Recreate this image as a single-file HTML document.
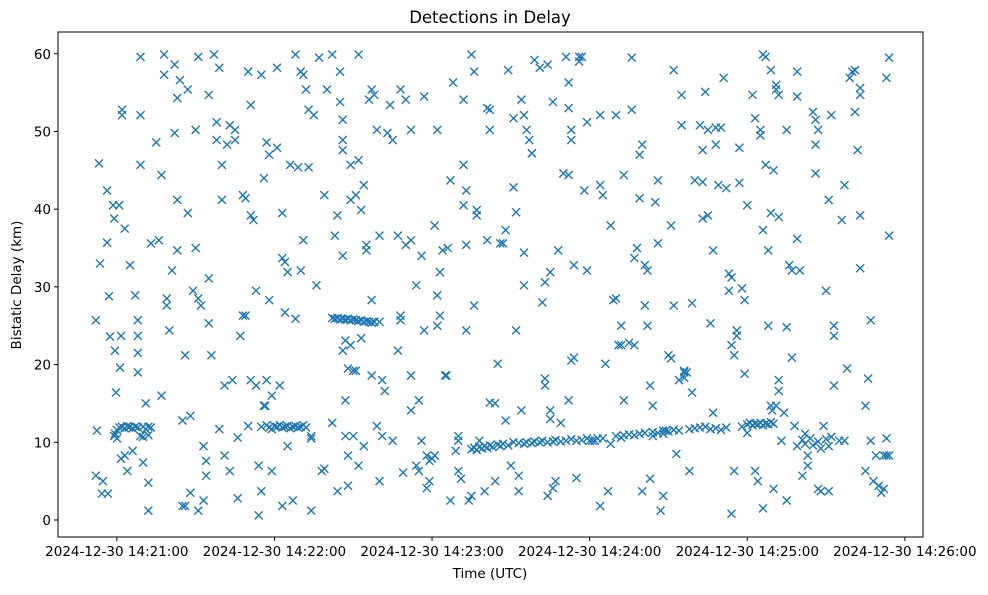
<!DOCTYPE html>
<html><head><meta charset="utf-8">
<style>
html,body{margin:0;padding:0;background:#fff;}
svg text{font-family:"DejaVu Sans","Liberation Sans",sans-serif;fill:#000;}
</style></head>
<body>
<svg id="chart" width="988" height="590" viewBox="0 0 988 590" xmlns="http://www.w3.org/2000/svg">
<rect x="0" y="0" width="988" height="590" fill="#fff"/>
<text x="490" y="23" font-size="16.5" text-anchor="middle">Detections in Delay</text>
<g id="marks"></g>
<g id="axes"></g>
<text x="490" y="578" font-size="13.5" text-anchor="middle">Time (UTC)</text>
<text x="0" y="0" font-size="13.5" text-anchor="middle" transform="translate(21,285) rotate(-90)">Bistatic Delay (km)</text>
</svg>
<script>
// seconds after 14:20:00 and bistatic delay (km)
const detections = [
[52,25.7],[52.4,11.5],[53.2,45.9],[53.6,33],[52,5.7],[54.7,5],[54.3,3.4],[56.6,3.4],[56.3,42.4],[56.3,35.7],[57,28.8],[57.4,23.6],[58.6,40.5],[59,38.8],[59.3,21.8],[59.7,16.4],[59.3,11.1],[60.1,10.5],[60.9,40.5],[61.2,19.6],[61.6,7.9],[61.6,23.7],
[62,52.8],[62,52.1],[63,37.5],[63,8.3],[64,6.3],[65,32.8],[66,8.9],[67,28.9],[68,25.7],[68,23.7],[68,21.5],[68,19],[69,59.6],[69,52.1],[69,45.7],[69,10.8],[70,7.4],[71,15],[72,1.2],[72,4.8],[73,35.6],[75,48.6],[76,36],[77,44.4],[77,16],[78,59.9],[78,57.3],[79,27.6],[79,28.5],[80,24.4],[81,32.1],[82,49.8],[82,58.6],[83,54.3],[83,34.7],[83,41.2],[84,56.6],[85,12.8],[85,1.8],[86,1.8],[86,21.2],[87,55.4],[87,39.5],[88,13.4],[88,3.5],[89,29.5],[90,35],[90,50.2],[91,59.6],[91,28.5],[91,1.2],[92,27.6],[93,2.5],
[60,11.6],[61,11.9],[62,12],[63,11.8],[64,12.1],[64.5,11.9],[65,12],[66,11.8],[67,12],[68,11.9],[70,12],[71,11.7],[72,12],[73,11.9],[59,10.8],[70,10.7],[72,10.9],
[93,9.5],[94,7.6],[94,5.7],[95,31.1],[95,25.3],[95,54.7],[96,21.2],[97,59.9],[98,48.9],[98,51.2],[99,11.7],[99,58.2],[100,41.2],[100,45.7],[101,17.3],[101,8.3],[102,48.3],[103,50.8],[103,6.3],[104,18],[105,48.9],[105,50.2],[106,10.6],[106,2.8],[107,23.7],[108,41.8],[108,26.3],[109,41.4],[109,26.3],[110,12.1],[110,57.7],[111,53.4],[111,18],[111,39.2],[112,38.6],[113,17.3],[113,29.5],[114,7],[114,0.6],[115,57.3],[115,3.7],[116,14.7],[116.5,14.7],[116,44],[117,18],[117,48.6],[118,47],[118,28.3],[119,16],[119,6.3],[119,11.7],[121,58.2],[121,47.9],[122,17.3],[123,39.5],[123,1.8],
[115,12],[117,12.2],[118,11.9],[120,12.1],[121,12],[122,12.2],[123,11.9],[124,12],[125,12.1],[126,11.8],[127,12],[128,12.1],[129,11.9],[130,12],[131,12.2],[132,11.9],
[123,33.7],[124,33.2],[124,26.7],[125,31.9],[125,9.5],[126,45.7],[127,2.5],[128,25.9],[128,59.9],[129,45.4],[130,32.1],[130,57.7],[131,36],[131,57.3],[132,55.4],[133,52.8],[133,45.4],[134,10.8],[134,10.5],[134,1.2],[135,52.1],[136,30.2],[137,59.5],[138,6.3],[139,41.8],[139,6.6],[140,55.4],[142,59.9],[142,12.5],[143,36.6],[144,39.2],[144,3.7],[145,53.8],[145,57.7],[146,51.5],[146,48.9],[146,34],[146,47.6],[146,21.8],[147,10.8],[147,15.4],[148,8.3],[148,4.4],[149,45.7],[149,41.2],[150,19.2],[150,10.8],[151,41.8],[152,59.9],[152,46.3],[152,7],[153,39.9],[153,23.4],[147,23.1],[149,22.5],[148,19.5],[151,19.2],
[142,26],[143,25.9],[144,26],[145,25.8],[146,25.9],[147,25.8],[148,25.9],[149,25.7],[150,25.8],[151,25.7],[152,25.6],[153,25.7],[154,25.5],[155,25.6],[156,25.5],[157,25.4],[158,25.5],[160,25.5],
[154,43.1],[154,9.5],[155,34.7],[155,35.4],[156,54.1],[157,18.6],[157,55.4],[157,28.3],[158,54.7],[159,50.2],[159,12.1],[160,36.6],[160,5],[161,10.8],[161,18],[162,16.6],[163,49.8],[164,53.4],[165,48.9],[165,10.2],[167,21.8],[167,36.6],[168,55.4],[168,26.3],[168,25.7],[169,6.1],[170,54.1],[170,35.4],[172,14.1],[172,50.2],[172,18.6],[172,36],[174,30.2],[174,7],[175,6.3],[175,15.4],[176,10.2],[176,34],[177,54.5],[177,24.4],[178,8.3],[178,4.1],[179,5],[179,7.6],[180,7.9],[181,8.3],[181,37.9],[182,25],[182,28.9],[182,50.2],[183,31.9],[183,26.3],[184,34.7],
[185,18.6],[185.5,18.6],[186,35],[187,43.7],[187,2.5],[188,56.3],[189,8.9],[190,10.2],[190,10.8],[190,6.3],[191,5.3],[192,54.1],[192,45.7],[192,40.5],[193,42.4],[193,24.4],[193,35.4],[194,2.5],[195,59.9],[195,3.1],[196,57.7],[196,27.6],[197,39.2],[197,39.9],[198,10.2],[200,3.7],[201,53],[201,36],[202,52.8],[202,50.2],[202,15.1],[204,15],[204,5],[205,20.1],[206,35.6],[206,9.5],[207,35.6],[208,12.8],[208,37.3],[209,57.9],[210,7],[211,42.8],[211,51.7],[212,39.6],[212,24.4],[213,5.7],[213,3.7],[214,54.1],[214,14.1],
[195,9.1],[196,9.3],[197,9],[198,9.4],[199,9.2],[200,9.5],[201,9.3],[202,9.6],[203,9.4],[205,9.7],[207,9.8],[209,9.6],[211,10],[213,9.9],
[215,30.2],[215,34.4],[215,52.1],[216,50.2],[217,48.9],[218,47.2],[218,47.2],[219,59.2],[221,58.2],[222,28],[223,30.6],[223,18.2],[223,17.3],[224,58.6],[224,3.1],[225,14.1],[225,31.9],[225,13],[226,4.1],[226,53.8],[227,5],[228,34.7],[229,12.5],[230,44.6],[231,59.6],[232,56.3],[232,53],[233,50.2],[233,48.9],[232,44.4],[232,15.4],[233,20.5],[234,20.9],[234,32.8],[235,5.4],[236,59.6],[236,59],[237,59.6],[238,42.4],[239,51.2],[239,32.1],[240,10.2],[241,10.2],[242,10.2],[243,10.5],[244,43.1],[244,1.8],[244,52.1],
[215,9.8],[216,10],[218,9.9],[219,10.1],[221,10],[222,10.2],[224,10],[226,10.1],[227,10.3],[229,10.1],[231,10.2],[233,10.4],[235,10.2],[237,10.3],[239,10.5],[245,10.5],
[245,41.8],[246,20.1],[247,3.7],[248,37.9],[248,9.8],[249,28.3],[250,28.5],[250,52.1],[251,22.5],[252,10.6],[252,22.5],[252,25],[253,44.4],[253,15.4],[255,22.8],[256,59.5],[256,52.8],[257,22.5],[257,33.7],[258,35],[259,41.4],[259,47],[260,48.3],[260,3.7],[261,32.8],[261,27.6],[262,25],[262,32.1],[263,17.3],[263,5.3],[264,10.8],[264,14.7],[265,40.9],[266,43.7],[266,35.6],[267,1.2],[268,3.1],[268,11.1],[269,11.5],[270,21.2],[271,20.8],[271,37.9],[272,27.6],[272,57.9],[273,8.5],[274,18],[275,54.7],[275,50.8],[276,19.2],[276,18.3],
[250,10.8],[253,10.9],[255,11],[257,10.9],[259,11.1],[261,11.2],[264,11.3],[266,11.2],[268,11.5],[270,11.4],[272,11.6],[274,11.5],
[276,19],[277,19],[278,6.3],[279,16.4],[279,27.9],[280,43.7],[282,50.8],[283,43.5],[283,47.6],[283,38.8],[284,55.1],[285,50.2],[285,39.2],[286,25.3],[287,34.7],[287,13.8],[288,50.5],[288,48.3],[289,43.1],[290,50.5],[291,56.9],[292,42.7],[293,31.7],[293,29.5],[294,31.2],[294,22.5],[294,0.8],[295,6.3],[295,21.2],[296,24.4],[297,47.9],[296,23.7],[297,43.4],[298,29.8],[299,28.3],[299,18.8],[300,11.2],[300,40.5],[302,54.7],[303,51.7],[303,6.3],[304,5],[305,49.5],[305,50.2],[306,1.5],[306,37.3],[306,59.9],
[278,11.7],[280,11.8],[282,11.9],[284,12],[286,11.7],[288,11.8],[290,11.6],[292,11.9],[298,12],[300,12.3],[301,12.5],[302,12.2],[303,12.4],[304,12.3],[305,12.5],[306,12.2],[307,12.4],[308,12.3],[309,12.6],[310,12.4],
[307,59.6],[307,45.7],[308,34.7],[308,25],[309,57.9],[309,39.5],[309,14.7],[309.5,14.1],[310,45],[310,4],[311,56],[311,55.4],[311,14.7],[312,16.6],[312,18],[312,39],[312,54.7],[313,10.2],[314,13.8],[315,50.2],[315,24.8],[315,2.5],[316,32.8],[317,20.9],[317,32.1],[318,12.1],[319,57.7],[319,54.5],[319,9.5],[319,36.2],[320,32.1],[321,5.7],[322,11.1],[323,7],[323,8.3],[325,52.5],[326,51.5],[326,44.6],[326,48.3],[327,50.2],[327,4],[328,3.7],[329,12.1],[330,29.5],[331,3.7],[331,41.2],[332,52.1],[333,23.7],[333,25],[333,17.3],[335,10.2],[336,38.6],[337,10.2],
[321,10.3],[322,9.8],[324,10.5],[325,9.6],[327,10.1],[328,9.2],[330,10.4],[331,9.5],[332,10.7],
[337,43.1],[338,19.5],[339,56.9],[340,57.7],[341,52.5],[341,57.9],[342,47.6],[343,54.7],[343,55.6],[343,39.2],[343,32.4],[345,6.3],[345,14.7],[346,18.2],[347,25.7],[347,10.2],[348,5],[349,8.3],[350,4.4],[351,3.5],[352,8.3],[352,4],[353,56.9],[353,8.3],[354,8.3],[353,10.5],[354,36.6],[354,59.5]
];
const yTicks = [0,10,20,30,40,50,60];
const xTickSeconds = [60,120,180,240,300,360];
const xTickLabels = ["2024-12-30 14:21:00","2024-12-30 14:22:00","2024-12-30 14:23:00","2024-12-30 14:24:00","2024-12-30 14:25:00","2024-12-30 14:26:00"];

const NS='http://www.w3.org/2000/svg';
const L=58,R=923,T=32,B=537;
const X0=37.6,X1=366.9,Y0=-2.19,Y1=62.8;
function xs(s){return L+(s-X0)/(X1-X0)*(R-L);}
function ys(v){return B-(v-Y0)/(Y1-Y0)*(B-T);}
function mk(tag,attrs,parent){const e=document.createElementNS(NS,tag);for(const k in attrs)e.setAttribute(k,attrs[k]);parent.appendChild(e);return e;}

const marks=document.getElementById('marks');
detections.forEach(p=>{
  const cx=xs(p[0]),cy=ys(p[1]),h=4;
  const g=mk('path',{d:`M${cx-h},${cy-h}L${cx+h},${cy+h}M${cx-h},${cy+h}L${cx+h},${cy-h}`,stroke:'#1f77b4','stroke-width':1.4,fill:'none'},marks);
  
  
});

const axes=document.getElementById('axes');
const frame=mk('rect',{x:L,y:T,width:R-L,height:B-T,fill:'none',stroke:'#000','stroke-width':1},axes);


yTicks.forEach(v=>{
  const y=ys(v);
  const t=mk('line',{x1:L-4,x2:L,y1:y,y2:y,stroke:'#000','stroke-width':1},axes);
  
  
  const lb=mk('text',{x:L-7,y:y+5,'font-size':13.5,'text-anchor':'end'},axes);
  lb.textContent=String(v);
  
  
});
xTickSeconds.forEach((s,i)=>{
  const x=xs(s);
  const t=mk('line',{x1:x,x2:x,y1:B,y2:B+4,stroke:'#000','stroke-width':1},axes);
  
  
  const lb=mk('text',{x:x,y:B+19,'font-size':13.5,'text-anchor':'middle'},axes);
  lb.textContent=xTickLabels[i];
  
  
});
</script>
</body></html>
